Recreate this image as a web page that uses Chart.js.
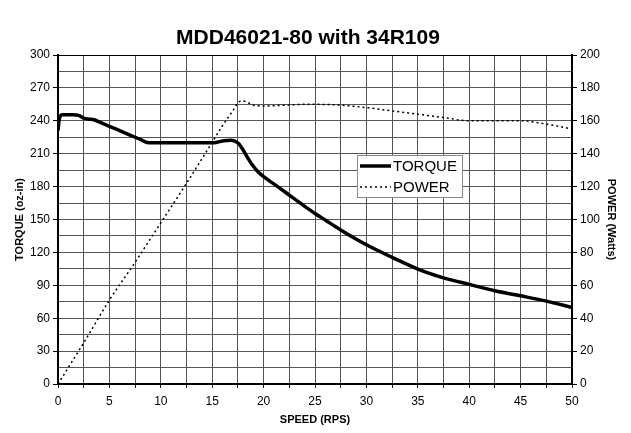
<!DOCTYPE html>
<html>
<head>
<meta charset="utf-8">
<script src="https://cdn.jsdelivr.net/npm/chart.js@4/dist/chart.umd.min.js"></script>
<style>
  html, body { margin: 0; padding: 0; background: #fff; }
  canvas { display: block; }
</style>
</head>
<body>
<canvas id="c" width="631" height="433"></canvas>
<script>
// ---- data ----
const chartTitle = 'MDD46021-80 with 34R109';
const torqueSpeed = [0, 0.1, 0.4, 1, 1.5, 2, 2.5, 3, 3.5, 4, 5, 6, 7, 7.5, 8, 8.8, 10, 11, 12, 13, 14, 15, 15.5, 16, 16.5, 16.8, 17.2, 17.6, 18, 18.5, 19, 19.5, 20, 21.3, 22.6, 24, 25, 26, 27.5, 30, 32.5, 35, 37.5, 40, 42.5, 45, 47.5, 50];
const torqueValues = [231, 240, 245.5, 245.5, 245.5, 245, 242.5, 241.5, 241, 239, 235, 231, 227, 225, 223, 220, 220, 220, 220, 220, 220, 220, 220.5, 221.5, 222, 222.2, 221.5, 219, 213.5, 205.5, 198.5, 193, 189, 180.5, 171.5, 162, 155.5, 149.5, 140.5, 127, 115.5, 104.8, 96.8, 90.8, 85, 80.4, 75.6, 69.8];
const powerSpeed = [0, 2.5, 5, 7.5, 10, 12.5, 15, 16, 17, 17.6, 18, 18.5, 19, 20, 22, 24, 25, 27.5, 30, 32.5, 35, 37.5, 40, 42.5, 45, 47.5, 50];
const powerValues = [0, 25, 51, 74, 98, 122, 147, 157, 166, 171.5, 172, 171, 169.5, 169, 169.5, 170, 170, 169.5, 168, 166, 164, 162, 160, 160, 160, 158, 155];
const speedRange = [0, 50];
const torqueRange = [0, 300];
const powerRange = [0, 200];
const xTitle = 'SPEED (RPS)';
const yLeftTitle = 'TORQUE (oz-in)';
const yRightTitle = 'POWER (Watts)';
const seriesNames = ['TORQUE', 'POWER'];

const torquePoints = torqueSpeed.map((s, i) => ({ x: s, y: torqueValues[i] }));
const powerPoints = powerSpeed.map((s, i) => ({ x: s, y: powerValues[i] }));

const FONT = "'Liberation Sans', Arial, Helvetica, sans-serif";

const frameTitleLegend = {
  id: 'frameTitleLegend',
  afterDraw(chart) {
    const ctx = chart.ctx;
    const a = chart.chartArea;
    ctx.save();
    // chart title
    ctx.fillStyle = '#000';
    ctx.font = 'bold 21px ' + FONT;
    ctx.textAlign = 'center';
    ctx.textBaseline = 'middle';
    ctx.fillText(chartTitle, 308, 38);
    // top frame line
    ctx.strokeStyle = '#000';
    ctx.lineWidth = 1;
    ctx.beginPath();
    ctx.moveTo(a.left, a.top + 0.5);
    ctx.lineTo(a.right, a.top + 0.5);
    ctx.stroke();
    // legend box
    const lx = 357, ly = 155, lw = 105, lh = 42;
    ctx.fillStyle = '#fff';
    ctx.fillRect(lx, ly, lw, lh);
    ctx.strokeStyle = '#888';
    ctx.lineWidth = 1;
    ctx.strokeRect(lx + 0.5, ly + 0.5, lw, lh);
    const ds = chart.data.datasets;
    const rows = [166, 187];
    ds.forEach((d, i) => {
      ctx.beginPath();
      ctx.strokeStyle = d.borderColor;
      ctx.lineWidth = d.borderWidth;
      ctx.setLineDash(d.borderDash || []);
      ctx.moveTo(360, rows[i]);
      ctx.lineTo(391, rows[i]);
      ctx.stroke();
      ctx.setLineDash([]);
      ctx.fillStyle = '#000';
      ctx.font = '15px ' + FONT;
      ctx.textBaseline = 'middle';
      ctx.textAlign = 'left';
      ctx.fillText(d.label, 393, rows[i] + 1);
    });
    ctx.restore();
  }
};

const gridColor = '#555';

new Chart(document.getElementById('c'), {
  type: 'line',
  data: {
    datasets: [
      {
        label: seriesNames[0],
        data: torquePoints,
        yAxisID: 'y',
        borderColor: '#000',
        borderWidth: 3.5,
        pointRadius: 0,
        fill: false,
        cubicInterpolationMode: 'monotone'
      },
      {
        label: seriesNames[1],
        data: powerPoints,
        yAxisID: 'y1',
        borderColor: '#000',
        borderWidth: 1.5,
        borderDash: [2, 3],
        pointRadius: 0,
        fill: false,
        cubicInterpolationMode: 'monotone'
      }
    ]
  },
  options: {
    responsive: false,
    animation: false,
    devicePixelRatio: 1,
    layout: { padding: { top: 55 } },
    plugins: {
      legend: { display: false },
      tooltip: { enabled: false },
      title: { display: false }
    },
    scales: {
      x: {
        type: 'linear',
        min: speedRange[0],
        max: speedRange[1],
        afterFit(s) { s.height = 49; },
        ticks: {
          stepSize: 2.5,
          autoSkip: false,
          maxRotation: 0,
          color: '#000',
          font: { family: FONT, size: 12 },
          padding: 6,
          callback: v => (v % 5 === 0 ? v : '')
        },
        grid: { color: gridColor, lineWidth: 1, tickLength: 4, tickColor: '#000' },
        border: { color: '#000', width: 2 },
        title: {
          display: true,
          text: xTitle,
          color: '#000',
          font: { family: FONT, size: 11, weight: 'bold' },
          padding: { top: 0, bottom: 6 }
        }
      },
      y: {
        position: 'left',
        min: torqueRange[0],
        max: torqueRange[1],
        afterFit(s) { s.width = 58; },
        ticks: {
          stepSize: 15,
          autoSkip: false,
          color: '#000',
          font: { family: FONT, size: 12 },
          padding: 3,
          callback: v => (v % 30 === 0 ? v : '')
        },
        grid: { color: gridColor, lineWidth: 1, tickLength: 5, tickColor: ctx => (ctx.tick && ctx.tick.value % 30 === 0 ? '#000' : 'rgba(0,0,0,0)') },
        border: { color: '#000', width: 2 },
        title: {
          display: true,
          text: yLeftTitle,
          color: '#000',
          font: { family: FONT, size: 11, weight: 'bold' },
          padding: { top: 13, bottom: 0 }
        }
      },
      y1: {
        position: 'right',
        min: powerRange[0],
        max: powerRange[1],
        afterFit(s) { s.width = 59; },
        ticks: {
          stepSize: 10,
          autoSkip: false,
          color: '#000',
          font: { family: FONT, size: 12 },
          padding: 3,
          callback: v => (v % 20 === 0 ? v : '')
        },
        grid: { drawOnChartArea: false, tickLength: 5, tickColor: ctx => (ctx.tick && ctx.tick.value % 20 === 0 ? '#000' : 'rgba(0,0,0,0)') },
        border: { color: '#000', width: 2 },
        title: {
          display: true,
          text: yRightTitle,
          color: '#000',
          font: { family: FONT, size: 11, weight: 'bold' },
          padding: { top: 13, bottom: 0 }
        }
      }
    }
  },
  plugins: [frameTitleLegend]
});
</script>
</body>
</html>
